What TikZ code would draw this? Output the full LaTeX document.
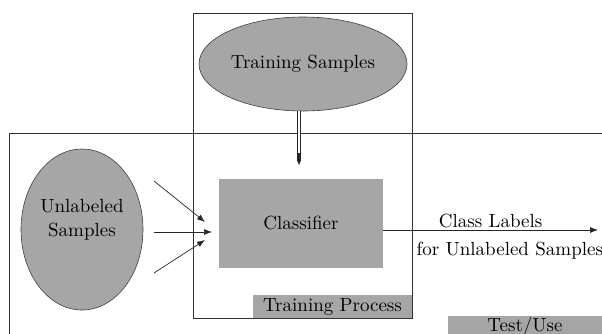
\documentclass[tikz,border=0pt]{standalone}
\usepackage{fontspec}
\setmainfont{lmroman10-regular}[Extension=.otf]
\usetikzlibrary{arrows.meta,shapes.geometric}
\tikzset{
	graybox/.style={fill=black!35, draw=none, inner sep=0pt},
	grayoval/.style={ellipse, fill=black!35, draw=black!75, line width=0.6pt, inner sep=0pt},
	bigtext/.style={font=\fontsize{19}{24}\selectfont},
	framebox/.style={draw=black!80, line width=0.7pt},
	feed/.style={draw=black!85, line width=0.7pt, -{Latex[length=8pt,width=6pt]}}
}
\begin{document}
\begin{tikzpicture}[x=1pt, y=-1pt]
	\useasboundingbox (0,0) rectangle (602,333);
	\clip (0,0) rectangle (602,333);
	% frames
	\draw [framebox] (9,340) -- (9,133) -- (610,133);
	\draw [framebox] (193,13) rectangle (412,318);
	% nodes
	\node [grayoval, bigtext, minimum width=208pt, minimum height=94pt] (train) at (303,64) {Training Samples};
	\node [grayoval, minimum width=122pt, minimum height=161pt] (unlab) at (82,229.5) {};
	\node [bigtext, align=center] (unlabtxt) at (82,220) {Unlabeled\\Samples};
	\node [graybox, bigtext, minimum width=164pt, minimum height=89pt] (clf) at (301,223.5) {Classifier};
	\node [graybox, bigtext, minimum width=159pt, minimum height=23pt] (tproc) at (332.5,306.5) {Training Process};
	\node [graybox, bigtext, minimum width=155pt, minimum height=22pt, anchor=north] (test) at (525,316) {Test/Use};
	% arrow ends
	\coordinate (in1) at (154,181);
	\coordinate (in2) at (154,232);
	\coordinate (in3) at (154,273);
	\coordinate (tip1) at (205,222);
	\coordinate (tip2) at (212,232);
	\coordinate (tip3) at (205,240);
	\coordinate (tip4) at (299,165);
	\coordinate (out) at (598,230);
	% connectors
	\draw [feed] (in1) -- (tip1);
	\draw [feed] (in2) -- (tip2);
	\draw [feed] (in3) -- (tip3);
	\draw [draw=black!85, line width=3.2pt, -{Triangle[length=4pt,width=3.2pt]}] (train.south -| tip4) -- (tip4);
	\draw [white, line width=1.2pt, shorten >=12pt] (train.south -| tip4) -- (tip4);
	\draw [feed] (clf.east |- out) -- (out)
		node [bigtext, pos=0.5, above=-2pt] (lab1) {Class Labels};
	\node [bigtext, anchor=west] (lab2) at (413,251) {for Unlabeled Samples};
\end{tikzpicture}
\end{document}
